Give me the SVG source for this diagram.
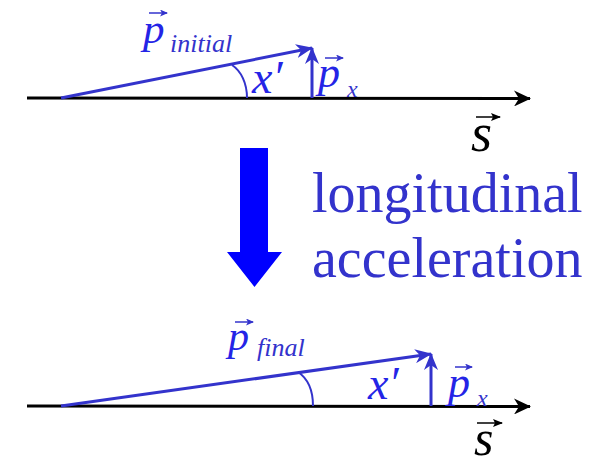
<svg xmlns="http://www.w3.org/2000/svg" width="595" height="461" viewBox="0 0 595 461">
<defs>
<marker id="ab" markerUnits="userSpaceOnUse" markerWidth="18" markerHeight="16" refX="16" refY="8" orient="auto" viewBox="0 0 18 16">
<path d="M0,0 L17,8 L0,16 L5,8 Z" fill="#000"/>
</marker>
<marker id="au" markerUnits="userSpaceOnUse" markerWidth="18" markerHeight="14" refX="16" refY="7" orient="auto" viewBox="0 0 18 14">
<path d="M0,0 L17,7 L0,14 L5,7 Z" fill="#3333cc"/>
</marker>
<marker id="smb" markerUnits="userSpaceOnUse" markerWidth="8" markerHeight="7" refX="7" refY="3.5" orient="auto" viewBox="0 0 8 7">
<path d="M0,0 L8,3.5 L0,7 L2,3.5 Z" fill="#3333cc"/>
</marker>
<marker id="smk" markerUnits="userSpaceOnUse" markerWidth="10" markerHeight="8" refX="9" refY="4" orient="auto" viewBox="0 0 10 8">
<path d="M0,0 L10,4 L0,8 L2,4 Z" fill="#000"/>
</marker>
</defs>
<style>
.axis{stroke:#000;stroke-width:3;fill:none}
.vec{stroke:#3333cc;stroke-width:3;fill:none}
.arc{stroke:#3333cc;stroke-width:2;fill:none}
.ov{stroke:#3333cc;stroke-width:1.5;fill:none}
.ovk{stroke:#000;stroke-width:1.5;fill:none}
text{font-family:"Liberation Serif","Times New Roman",serif}
.it{font-style:italic}
.b{fill:#3333cc}
.pb{fill:#2424e6}
.k{fill:#000}
</style>
<g id="connectors">
<line class="axis" x1="27" y1="98" x2="530" y2="98.5" marker-end="url(#ab)"/>
<line class="vec" x1="61" y1="98" x2="312" y2="48" marker-end="url(#au)"/>
<line class="vec" x1="312" y1="98" x2="312" y2="48" marker-end="url(#au)"/>
<path class="arc" d="M232,65 C241,71 247,83 247,98"/>
<line class="axis" x1="27" y1="406" x2="530" y2="406.5" marker-end="url(#ab)"/>
<line class="vec" x1="61" y1="406" x2="431" y2="354" marker-end="url(#au)"/>
<line class="vec" x1="431" y1="406" x2="431" y2="354" marker-end="url(#au)"/>
<path class="arc" d="M298,372 C307,378 313,390 313,406"/>
</g>
<g id="big-arrow">
<polygon points="240,148 268,148 268,252 282,252 254.5,287 227,252 240,252" fill="#0000ff"/>
</g>
<g id="label-accel">
<text x="312" y="212" font-size="56" class="b">longitudinal</text>
<text x="312" y="277" font-size="56" class="b">acceleration</text>
</g>
<g id="top-labels">
<line class="ov" x1="149" y1="13" x2="167" y2="13" marker-end="url(#smb)"/>
<text x="143" y="43" font-size="43" class="it pb">p</text>
<text x="170" y="52" font-size="26" class="it b">initial</text>
<text x="252" y="93" font-size="46" class="it pb">x′</text>
<line class="ov" x1="325" y1="58" x2="343" y2="58" marker-end="url(#smb)"/>
<text x="318" y="87" font-size="44" class="it pb">p</text>
<text x="347" y="97" font-size="24" class="it b">x</text>
<line class="ovk" x1="476" y1="117" x2="500" y2="117" marker-end="url(#smk)"/>
<text x="471" y="151" font-size="54" class="it k">s</text>
</g>
<g id="bottom-labels">
<line class="ov" x1="235" y1="322" x2="253" y2="322" marker-end="url(#smb)"/>
<text x="228" y="350" font-size="42" class="it pb">p</text>
<text x="257" y="356" font-size="26" class="it b">final</text>
<text x="368" y="399" font-size="46" class="it pb">x′</text>
<line class="ov" x1="455" y1="367" x2="472" y2="367" marker-end="url(#smb)"/>
<text x="448" y="397" font-size="44" class="it pb">p</text>
<text x="477" y="406" font-size="24" class="it b">x</text>
<line class="ovk" x1="477" y1="423" x2="502" y2="423" marker-end="url(#smk)"/>
<text x="474" y="455" font-size="50" class="it k">s</text>
</g>
</svg>
